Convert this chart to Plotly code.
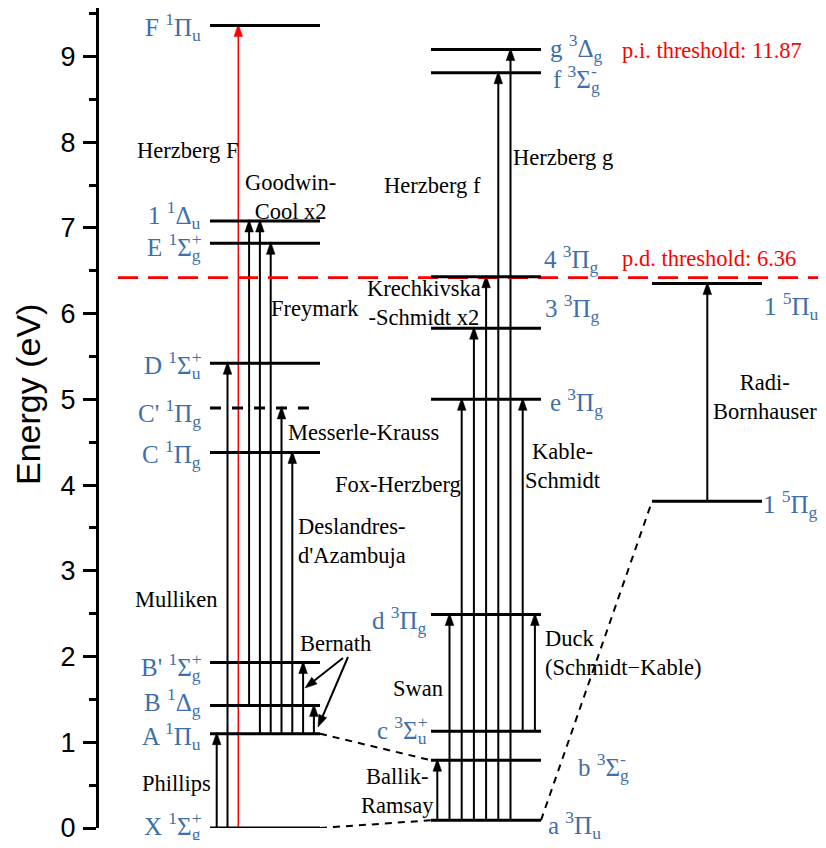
import math
import plotly.graph_objects as go

# ---------------- data ----------------
singlet_names = ["X", "A", "B", "B'", "C", "C'", "D", "E", "1Du", "F"]
singlet_energy = [0.00, 1.10, 1.43, 1.93, 4.38, 4.90, 5.42, 6.82, 7.08, 9.36]
singlet_letter = ["X", "A", "B", "B'", "C", "C'", "D", "E", "1", "F"]
singlet_symbol = ["Σ", "Π", "Δ", "Σ", "Π", "Π", "Σ", "Σ", "Δ", "Π"]
singlet_parity = ["g", "u", "g", "g", "g", "g", "u", "g", "u", "u"]
singlet_reflect = ["+", "", "", "+", "", "", "+", "+", "", ""]

triplet_names = ["a", "b", "c", "d", "e", "3", "4", "f", "g"]
triplet_energy = [0.09, 0.79, 1.13, 2.49, 5.00, 5.83, 6.43, 8.81, 9.08]
triplet_letter = ["a", "b", "c", "d", "e", "3", "4", "f", "g"]
triplet_symbol = ["Π", "Σ", "Σ", "Π", "Π", "Π", "Π", "Σ", "Δ"]
triplet_parity = ["u", "g", "u", "g", "g", "g", "g", "g", "g"]
triplet_reflect = ["", "-", "+", "", "", "", "", "-", ""]

quintet_names = ["5g", "5u"]
quintet_energy = [3.81, 6.35]
quintet_letter = ["1", "1"]
quintet_symbol = ["Π", "Π"]
quintet_parity = ["g", "u"]
quintet_reflect = ["", ""]

band_lower = ["X", "X", "X", "B", "A", "A", "A", "A", "A", "A",
              "a", "a", "a", "a", "a", "a", "a", "c", "c",
              "5g"]
band_upper = ["A", "D", "F", "1Du", "1Du", "E", "C'", "C", "B'", "B",
              "b", "d", "e", "3", "4", "f", "g", "e", "d",
              "5u"]
band_red = [False, False, True] + [False] * 17

band_labels = ["Phillips", "Mulliken", "Herzberg F", "Goodwin-<br>Cool x2", "Freymark",
               "Messerle-Krauss", "Deslandres-<br>d'Azambuja", "Bernath",
               "Ballik-<br>Ramsay", "Swan", "Fox-Herzberg", "Krechkivska<br>-Schmidt x2",
               "Herzberg f", "Herzberg g", "Kable-<br>Schmidt", "Duck<br>(Schmidt−Kable)",
               "Radi-<br>Bornhauser"]

crossing_from = ["X", "A", "a"]
crossing_to = ["a", "b", "5g"]

pi_threshold_text = "p.i. threshold: 11.87"
pd_threshold_text = "p.d. threshold: 6.36"
pd_threshold_drawn = 6.42

# ---------------- layout constants ----------------
# the page body has an 8px margin; all coordinates below are window pixels
OFF = 8
W, H = 826 - 2 * OFF, 848 - 2 * OFF
PLOT_L_ABS, PLOT_T_ABS, PLOT_B_ABS = 99, OFF, 828
PLOT_R_ABS = OFF + W
PPU = 85.73
Y_MIN = 0.0
Y_MAX = (PLOT_B_ABS - PLOT_T_ABS) / PPU
M_L, M_R, M_T, M_B = PLOT_L_ABS - OFF, 0, 0, H - (PLOT_B_ABS - OFF)
X_RANGE = [PLOT_L_ABS, PLOT_R_ABS]
Y0PX = PLOT_B_ABS

def ypx(e):
    return Y0PX - (e - Y_MIN) * PPU

def pxy(p):
    return Y_MIN + (Y0PX - p) / PPU

SERIF = "Liberation Serif, Times New Roman, serif"
SANS = "Liberation Sans, Arial, sans-serif"
BLUE = "#3f6fa8"

columns = {"s": (210, 320), "t": (431, 541), "q": (652, 762)}

energy = {}
col_of = {}
terms = {}
for names, en, let, sym, par, ref, c in [
        (singlet_names, singlet_energy, singlet_letter, singlet_symbol, singlet_parity, singlet_reflect, "s"),
        (triplet_names, triplet_energy, triplet_letter, triplet_symbol, triplet_parity, triplet_reflect, "t"),
        (quintet_names, quintet_energy, quintet_letter, quintet_symbol, quintet_parity, quintet_reflect, "q")]:
    mult = {"s": "1", "t": "3", "q": "5"}[c]
    for n, e, l, s, p, r in zip(names, en, let, sym, par, ref):
        energy[n] = e
        col_of[n] = c
        terms[n] = (l, mult, s, p, r)

dashed_levels = {"C'"}

arrow_x = [216.7 + 10.8 * i for i in range(10)] + [437.3 + 12.2 * i for i in range(9)] + [707.3]

fig = go.Figure()

def add_line(x, y, color, width, dash=None):
    fig.add_trace(go.Scatter(x=x, y=y, mode="lines", line=dict(color=color, width=width, dash=dash),
                             cliponaxis=False, hoverinfo="skip", showlegend=False))

def add_fill(x, y, color):
    fig.add_trace(go.Scatter(x=x, y=y, mode="lines", fill="toself", fillcolor=color,
                             line=dict(color=color, width=0.5),
                             cliponaxis=False, hoverinfo="skip", showlegend=False))

# ---------- transition arrows ----------
HEAD_L, HEAD_HW = 12.5, 4.3
for red in (False, True):
    color = "red" if red else "black"
    lw = 1.5 if red else 2
    sx, sy, hx, hy = [], [], [], []
    for x, lo, up, r in zip(arrow_x, band_lower, band_upper, band_red):
        if r != red:
            continue
        e0, e1 = energy[lo], energy[up]
        tip = e1 + 1.5 / PPU
        base = tip - HEAD_L / PPU
        sx += [x, x, None]
        sy += [e0, base + 2 / PPU, None]
        hx += [x - HEAD_HW, x + HEAD_HW, x, x - HEAD_HW, None]
        hy += [base, base, tip, base, None]
    add_line(sx, sy, color, lw)
    add_fill(hx, hy, color)

# ---------- crossing (dashed) lines ----------
cx, cy = [], []
for a, b in zip(crossing_from, crossing_to):
    cx += [columns[col_of[a]][1], columns[col_of[b]][0], None]
    cy += [energy[a], energy[b], None]
add_line(cx, cy, "black", 2, "7px,6px")

# ---------- p.d. threshold ----------
add_line([118, PLOT_R_ABS], [pd_threshold_drawn] * 2, "red", 2.8, "20px,10px")

# ---------- levels ----------
lx, ly, dx, dy_ = [], [], [], []
for n, e in energy.items():
    x0, x1 = columns[col_of[n]]
    if n in dashed_levels:
        dx += [x0, x1, None]; dy_ += [e, e, None]
    else:
        lx += [x0, x1, None]; ly += [e, e, None]
add_line(lx, ly, "black", 3)
add_line(dx, dy_, "black", 3, "11px,11px")

# ---------- Bernath pointer arrows ----------
bern = [((343, 658), (305, 688)), ((348, 657), (318, 727))]
px_, py_, qx, qy = [], [], [], []
for (tx, ty), (hx_, hy_) in bern:
    ddx, ddy = hx_ - tx, hy_ - ty
    L = math.hypot(ddx, ddy)
    ux, uy = ddx / L, ddy / L
    bx, by = hx_ - ux * 12, hy_ - uy * 12
    nx, ny = -uy, ux
    px_ += [tx, bx + ux * 2, None]
    py_ += [pxy(ty), pxy(by + uy * 2), None]
    pts = [(bx + nx * 4.3, by + ny * 4.3), (bx - nx * 4.3, by - ny * 4.3), (hx_, hy_), (bx + nx * 4.3, by + ny * 4.3)]
    qx += [p[0] for p in pts] + [None]
    qy += [pxy(p[1]) for p in pts] + [None]
add_line(px_, py_, "black", 2)
add_fill(qx, qy, "black")

# ---------- state labels ----------
FS = 25
CAP = 0.662 * FS
K_TOP = 27
W_SMALL = {"+": 0.564, "-": 0.333, "g": 0.5, "u": 0.5}
label_pos = {
    "F": ("right", 203, 0), "1Du": ("right", 203, -7), "E": ("right", 203, 2),
    "D": ("right", 203, 0), "C'": ("right", 203, 4), "C": ("right", 203, 0),
    "B'": ("right", 203, 3), "B": ("right", 203, -5), "A": ("right", 203, 1),
    "X": ("right", 203, -3),
    "g": ("left", 548, -3), "f": ("left", 551, 5), "4": ("left", 542, -19),
    "3": ("left", 543, -21), "e": ("left", 548, 1), "d": ("right", 429, 4),
    "c": ("right", 429, -2), "b": ("left", 576, 5), "a": ("left", 546, 3),
    "5u": ("left", 762, 21), "5g": ("left", 761, 1),
}
for n, (anc, x, dyp) in label_pos.items():
    l, m, s, p, r = terms[n]
    base_px = ypx(energy[n]) + dyp + CAP / 2
    ysh = ypx(energy[n]) - (base_px - K_TOP)   # shift up from the level to the box top
    fig.add_annotation(x=x, y=energy[n], xanchor=anc, yanchor="top", yshift=ysh, showarrow=False,
                       text=f"{l} <sup>{m}</sup>{s}<sub>{p}</sub>",
                       font=dict(family=SERIF, size=FS, color=BLUE))
    if r:
        shift = (W_SMALL[r] - W_SMALL[p]) * 0.7 * FS if anc == "right" else 0
        fig.add_annotation(x=x, y=energy[n], xanchor=anc, yanchor="top", yshift=ysh, xshift=shift,
                           showarrow=False,
                           text=f'<span style="color:rgba(0,0,0,0)">{l} <sup>{m}</sup>{s}</span><sup>{r}</sup>',
                           font=dict(family=SERIF, size=FS, color=BLUE))

# ---------- band labels ----------
band_pos = [
    (176, 783, "center"), (176, 599, "center"), (187, 150, "center"), (290, 197, "center"),
    (315, 308, "center"), (363, 432, "center"), (296, 541, "left"), (335, 643, "center"),
    (397, 791, "center"), (418, 688, "center"), (398, 484, "center"), (424, 303, "center"),
    (432, 185, "center"), (563, 157, "center"), (563, 466, "center"), (543, 653, "left"),
    (765, 397, "center"),
]
for t, (x, y, al) in zip(band_labels, band_pos):
    fig.add_annotation(x=x, y=pxy(y), xanchor="left" if al == "left" else "center", yanchor="middle",
                       align=al, showarrow=False, text=t,
                       font=dict(family=SERIF, size=22.5, color="black"))

# ---------- threshold labels ----------
for t, y in [(pi_threshold_text, 50), (pd_threshold_text, 258)]:
    fig.add_annotation(x=620, y=pxy(y), xanchor="left", yanchor="middle", showarrow=False, text=t,
                       font=dict(family=SERIF, size=22.5, color="red"))

# ---------- axis title ----------
fig.add_annotation(xref="paper", x=(28 - X_RANGE[0]) / (X_RANGE[1] - X_RANGE[0]), y=pxy(395), yref="y",
                   xanchor="center", yanchor="middle", textangle=-90, showarrow=False,
                   text="Energy (eV)", font=dict(family=SANS, size=34, color="black"))

fig.update_xaxes(visible=False, range=X_RANGE)
fig.update_yaxes(range=[Y_MIN, Y_MAX], showline=True, linecolor="black", linewidth=3,
                 ticks="outside", ticklen=13, tickwidth=2.5, tickcolor="black",
                 tick0=0, dtick=1, showgrid=False, zeroline=False, ticklabelstandoff=2,
                 ticklabeloverflow="allow", automargin=False,
                 minor=dict(ticks="outside", ticklen=7, tickwidth=2.5, tickcolor="black", dtick=0.5),
                 tickfont=dict(family=SANS, size=27, color="black"))
fig.update_layout(width=W, height=H, margin=dict(l=M_L, r=M_R, t=M_T, b=M_B),
                  plot_bgcolor="white", paper_bgcolor="white", showlegend=False)
fig.write_html("out.html")
